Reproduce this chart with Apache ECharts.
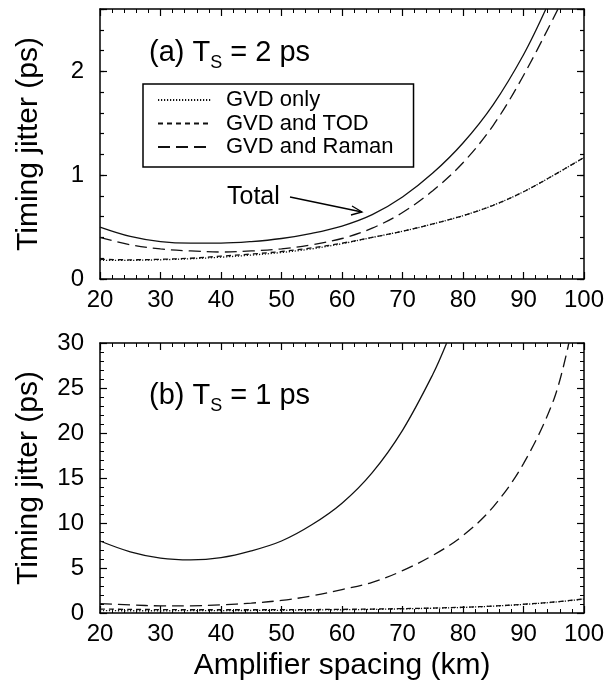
<!DOCTYPE html>
<html>
<head>
<meta charset="utf-8">
<script src="https://cdn.jsdelivr.net/npm/echarts@6/dist/echarts.min.js"></script>
<style>
html, body { margin: 0; padding: 0; background: #fff; }
#chart { width: 608px; height: 688px; }
</style>
</head>
<body>
<div id="chart"></div>
<script>
// amplifier spacing (km) and jitter (ps)
const kmAll = [20, 25, 30, 35, 40, 45, 50, 55, 60, 65, 70, 75, 80, 85, 90, 95, 100]

// (a) Ts = 2 ps
const gvdOnlyA = [0.18, 0.18, 0.185, 0.195, 0.21, 0.23, 0.255, 0.29, 0.34, 0.40, 0.46, 0.53, 0.61, 0.71, 0.84, 1.0, 1.17]
const gvdTodA = [0.19, 0.185, 0.19, 0.20, 0.22, 0.24, 0.265, 0.30, 0.345, 0.40, 0.46, 0.53, 0.61, 0.71, 0.84, 1.0, 1.17]
const kmRamanA = [20, 25, 30, 35, 40, 45, 50, 55, 60, 65, 70, 75, 80, 85, 90, 95.7]
const gvdRamanA = [0.40, 0.33, 0.29, 0.27, 0.26, 0.27, 0.29, 0.33, 0.39, 0.49, 0.64, 0.85, 1.12, 1.48, 1.96, 2.6]
const kmTotalA = [20, 25, 30, 35, 40, 45, 50, 55, 60, 65, 70, 75, 80, 85, 90, 93.7]
const totalA = [0.50, 0.41, 0.36, 0.345, 0.345, 0.36, 0.39, 0.44, 0.51, 0.62, 0.79, 1.02, 1.31, 1.68, 2.16, 2.6]

// (b) Ts = 1 ps
const gvdOnlyB = [0.26, 0.25, 0.25, 0.26, 0.27, 0.28, 0.30, 0.33, 0.36, 0.40, 0.46, 0.53, 0.62, 0.76, 0.95, 1.2, 1.55]
const gvdTodB = [0.44, 0.40, 0.38, 0.36, 0.36, 0.36, 0.37, 0.38, 0.41, 0.44, 0.49, 0.55, 0.64, 0.77, 0.97, 1.22, 1.56]
const kmRamanB = [20, 25, 30, 35, 40, 45, 50, 55, 60, 65, 70, 75, 80, 85, 90, 95, 97.5]
const gvdRamanB = [1.05, 0.9, 0.8, 0.8, 0.9, 1.1, 1.4, 1.9, 2.6, 3.4, 4.7, 6.4, 8.6, 11.8, 16.6, 23.7, 30]
const kmTotalB = [20, 25, 30, 35, 40, 45, 50, 55, 60, 65, 70, 75, 77.3]
const totalB = [8.0, 6.8, 6.1, 5.9, 6.15, 6.9, 8.0, 9.8, 12.2, 15.6, 20.3, 26.5, 30]

const legendNames = ['GVD only', 'GVD and TOD', 'GVD and Raman']

const FONT = '"Liberation Sans", Arial, Helvetica, sans-serif'
const INK = '#111'

function pairs (xs, ys) {
  return xs.map((x, i) => [x, ys[i]])
}

function measure (txt, size) {
  const ctx = document.createElement('canvas').getContext('2d')
  ctx.font = size + 'px ' + FONT
  return ctx.measureText(txt).width
}

// panel label like "(a) T_S = 2 ps" with a real subscript
function panelLabel (x0, y, pre, post) {
  const big = 29
  const small = 18
  const w1 = measure(pre, big)
  const w2 = measure('S', small)
  const st = { fill: '#000', fontFamily: FONT, verticalAlign: 'middle' }
  return [
    { type: 'text', x: x0, y: y, style: Object.assign({ text: pre, fontSize: big }, st) },
    { type: 'text', x: x0 + w1, y: y + 10, style: Object.assign({ text: 'S', fontSize: small }, st) },
    { type: 'text', x: x0 + w1 + w2, y: y, style: Object.assign({ text: post, fontSize: big }, st) }
  ]
}

function xAxisFor (grid, pos, withLabels, name) {
  return {
    gridIndex: grid,
    type: 'value',
    position: pos,
    min: 20,
    max: 100,
    interval: 10,
    name: name || '',
    nameLocation: 'middle',
    nameGap: 38,
    nameTextStyle: { fontSize: 30, color: '#000', fontFamily: FONT },
    axisLine: { show: true, onZero: false, lineStyle: { color: '#000', width: 1.5 } },
    axisTick: { show: true, inside: true, length: 7, lineStyle: { color: '#000', width: 1.2 } },
    minorTick: { show: true, splitNumber: 5, length: 4, lineStyle: { color: '#000', width: 1 } },
    axisLabel: { show: withLabels, fontSize: 24, color: '#000', fontFamily: FONT, margin: 9 },
    splitLine: { show: false }
  }
}

function yAxisFor (grid, pos, max, interval, tickLen, withLabels, showLine, minor, name) {
  return {
    gridIndex: grid,
    type: 'value',
    position: pos,
    min: 0,
    max: max,
    interval: interval,
    name: name || '',
    nameLocation: 'middle',
    nameGap: 56,
    nameTextStyle: { fontSize: 30, color: '#000', fontFamily: FONT },
    axisLine: { show: showLine, onZero: false, lineStyle: { color: '#000', width: 1.5 } },
    axisTick: { show: true, inside: true, length: tickLen, lineStyle: { color: '#000', width: 1.2 } },
    minorTick: { show: minor, splitNumber: 5, length: 4, lineStyle: { color: '#000', width: 1 } },
    axisLabel: {
      show: withLabels,
      fontSize: 24,
      color: '#000',
      fontFamily: FONT,
      margin: 16,
      formatter: v => (v % interval === 0 ? String(v) : '')
    },
    splitLine: { show: false }
  }
}

function line (name, data, xi, yi, dash, z) {
  return {
    name: name,
    type: 'line',
    xAxisIndex: xi,
    yAxisIndex: yi,
    data: data,
    smooth: 0.35,
    symbol: 'none',
    clip: true,
    z: z || 2,
    itemStyle: { color: INK },
    lineStyle: { color: INK, width: 1.3, type: dash }
  }
}

const chart = echarts.init(document.getElementById('chart'), null, { renderer: 'canvas' })

const option = {
  animation: false,
  backgroundColor: '#fff',
  grid: [
    { left: 100, right: 24, top: 9, height: 270 },
    { left: 100, right: 24, top: 343, height: 270 }
  ],
  xAxis: [
    xAxisFor(0, 'bottom', true),
    xAxisFor(0, 'top', false),
    xAxisFor(1, 'bottom', true, 'Amplifier spacing (km)'),
    xAxisFor(1, 'top', false)
  ],
  yAxis: [
    yAxisFor(0, 'left', 2.6, 1, 7, true, true, false, 'Timing jitter (ps)'),
    yAxisFor(0, 'left', 2.6, 0.2, 4, false, false, false),
    yAxisFor(0, 'right', 2.6, 1, 7, false, true, false),
    yAxisFor(0, 'right', 2.6, 0.2, 4, false, false, false),
    yAxisFor(1, 'left', 30, 5, 7, true, true, true, 'Timing jitter (ps)'),
    yAxisFor(1, 'right', 30, 5, 7, false, true, true)
  ],
  legend: {
    data: legendNames,
    orient: 'vertical',
    left: 143,
    top: 84,
    itemWidth: 53,
    itemHeight: 14,
    itemGap: 1.5,
    padding: [5, 20, 9, 14],
    borderColor: '#000',
    borderWidth: 1.5,
    borderRadius: 0,
    selectedMode: false,
    itemStyle: { opacity: 0 },
    textStyle: { fontSize: 22, color: '#000', fontFamily: FONT, lineHeight: 22, padding: [0, 0, 0, 10] }
  },
  series: [
    line('GVD only', pairs(kmAll, gvdOnlyA), 0, 0, [1.2, 1.8]),
    line('GVD and TOD', pairs(kmAll, gvdTodA), 0, 0, [5, 4]),
    line('GVD and Raman', pairs(kmRamanA, gvdRamanA), 0, 0, [12, 6]),
    line('Total', pairs(kmTotalA, totalA), 0, 0, 'solid', 3),
    line('GVD only', pairs(kmAll, gvdOnlyB), 2, 4, [1.2, 1.8]),
    line('GVD and TOD', pairs(kmAll, gvdTodB), 2, 4, [5, 4]),
    line('GVD and Raman', pairs(kmRamanB, gvdRamanB), 2, 4, [12, 6]),
    line('Total', pairs(kmTotalB, totalB), 2, 4, 'solid', 3)
  ],
  graphic: [
    ...panelLabel(149, 53, '(a) T', ' = 2 ps'),
    ...panelLabel(149, 396, '(b) T', ' = 1 ps'),
    {
      type: 'text',
      x: 227,
      y: 197,
      style: { text: 'Total', fontSize: 25, fill: '#000', fontFamily: FONT, verticalAlign: 'middle' }
    },
    {
      type: 'line',
      shape: { x1: 290, y1: 197, x2: 362, y2: 212 },
      style: { stroke: '#000', lineWidth: 1.3 }
    },
    {
      type: 'polyline',
      shape: { points: [[352, 206], [362, 212], [351, 215]] },
      style: { stroke: '#000', lineWidth: 1.3, fill: null }
    }
  ]
}

chart.setOption(option)
</script>
</body>
</html>
